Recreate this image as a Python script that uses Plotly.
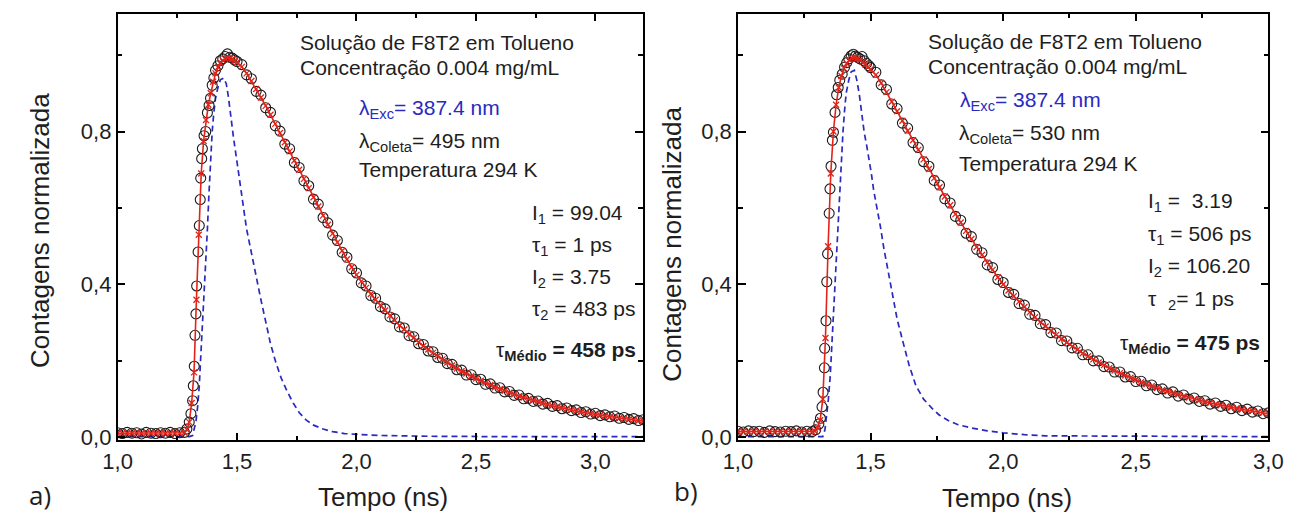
import plotly.graph_objects as go

# ---------------- data ----------------
# Panel a) -- collected at 495 nm
A_DATA_T = [1.00, 1.02, 1.04, 1.06, 1.08, 1.10, 1.12, 1.14, 1.16, 1.18, 1.20, 1.22, 1.24, 1.26,
            1.28, 1.29, 1.30, 1.307, 1.314, 1.317, 1.321, 1.324, 1.328, 1.331, 1.337, 1.342, 1.346,
            1.348, 1.352, 1.355, 1.362, 1.369, 1.376, 1.383, 1.389, 1.396, 1.403, 1.41, 1.42, 1.43,
            1.44, 1.45, 1.46, 1.47, 1.48, 1.49, 1.50]
A_DATA_V = [0.012, 0.010, 0.013, 0.011, 0.012, 0.009, 0.013, 0.011, 0.010, 0.012, 0.011, 0.013, 0.010, 0.012,
            0.013, 0.022, 0.040, 0.062, 0.096, 0.135, 0.186, 0.267, 0.323, 0.396, 0.485, 0.554, 0.622,
            0.678, 0.729, 0.755, 0.789, 0.800, 0.849, 0.868, 0.887, 0.921, 0.940, 0.960, 0.972, 0.985,
            0.990, 0.996, 1.003, 0.994, 0.992, 0.987, 0.983]
A_FIT_T = [1.00, 1.02, 1.04, 1.06, 1.08, 1.10, 1.12, 1.14, 1.16, 1.18, 1.20, 1.22, 1.24, 1.26,
           1.28, 1.29, 1.30, 1.31, 1.32, 1.33, 1.34, 1.35, 1.36, 1.37, 1.38, 1.39, 1.40, 1.41,
           1.42, 1.43, 1.44, 1.45, 1.46, 1.47, 1.48, 1.49, 1.50]
A_FIT_V = [0.011, 0.011, 0.011, 0.011, 0.011, 0.011, 0.011, 0.011, 0.011, 0.011, 0.011, 0.011, 0.011, 0.011,
           0.012, 0.020, 0.040, 0.090, 0.170, 0.360, 0.530, 0.690, 0.775, 0.830, 0.870, 0.900, 0.930, 0.952,
           0.968, 0.979, 0.986, 0.990, 0.992, 0.991, 0.989, 0.985, 0.981]
A_DECAY_T = [1.52, 1.54, 1.56, 1.58, 1.60, 1.62, 1.64, 1.66, 1.68, 1.70, 1.72, 1.74, 1.76, 1.78,
             1.80, 1.82, 1.84, 1.86, 1.88, 1.90, 1.92, 1.94, 1.96, 1.98,
             2.00, 2.02, 2.04, 2.06, 2.08, 2.10, 2.12, 2.14, 2.16, 2.18, 2.20, 2.22, 2.24, 2.26,
             2.28, 2.30, 2.32, 2.34, 2.36, 2.38, 2.40, 2.42, 2.44, 2.46, 2.48, 2.50, 2.52, 2.54,
             2.56, 2.58, 2.60, 2.62, 2.64, 2.66, 2.68, 2.70, 2.72, 2.74, 2.76, 2.78, 2.80, 2.82,
             2.84, 2.86, 2.88, 2.90, 2.92, 2.94, 2.96, 2.98, 3.00, 3.02, 3.04, 3.06, 3.08, 3.10,
             3.12, 3.14, 3.16, 3.18, 3.20]
A_DECAY_DATA = [0.975, 0.948, 0.938, 0.905, 0.895, 0.862, 0.850, 0.815, 0.801, 0.767, 0.755, 0.719,
                0.706, 0.671, 0.658, 0.623, 0.610, 0.575, 0.561, 0.529, 0.515, 0.484, 0.471, 0.441,
                0.430, 0.404, 0.396, 0.371, 0.364, 0.342, 0.336, 0.315, 0.310, 0.289,
                0.286, 0.266, 0.263, 0.245, 0.243, 0.226, 0.224, 0.209, 0.207, 0.193,
                0.191, 0.177, 0.176, 0.163, 0.164, 0.151, 0.152, 0.139, 0.140, 0.129,
                0.130, 0.119, 0.120, 0.110, 0.111, 0.101, 0.102, 0.094, 0.095, 0.087,
                0.089, 0.081, 0.083, 0.075, 0.077, 0.070, 0.072, 0.065, 0.067, 0.061,
                0.063, 0.057, 0.059, 0.054, 0.056, 0.050, 0.052, 0.047, 0.049, 0.044, 0.046]
A_DECAY_FIT = [0.969, 0.952, 0.932, 0.911, 0.889, 0.867, 0.844, 0.820, 0.796, 0.772, 0.748, 0.724,
               0.700, 0.676, 0.652, 0.628, 0.604, 0.580, 0.556, 0.533, 0.510, 0.488, 0.466, 0.445,
               0.425, 0.408, 0.391, 0.375, 0.360, 0.346, 0.332, 0.319, 0.306, 0.293,
               0.282, 0.270, 0.260, 0.249, 0.239, 0.230, 0.221, 0.212, 0.204, 0.196,
               0.188, 0.180, 0.173, 0.167, 0.160, 0.154, 0.148, 0.142, 0.137, 0.131,
               0.126, 0.122, 0.117, 0.113, 0.108, 0.104, 0.100, 0.097, 0.093, 0.090,
               0.086, 0.083, 0.080, 0.077, 0.074, 0.072, 0.069, 0.067, 0.064, 0.062,
               0.060, 0.058, 0.056, 0.054, 0.052, 0.050, 0.049, 0.047, 0.046, 0.044, 0.043]
A_IRF_T = [1.00, 1.30, 1.314, 1.321, 1.328, 1.335, 1.342, 1.348, 1.355, 1.362, 1.369, 1.376, 1.382,
           1.389, 1.396, 1.403, 1.41, 1.42, 1.43, 1.444, 1.455, 1.464, 1.475, 1.485, 1.50, 1.512,
           1.525, 1.54, 1.56, 1.581, 1.60, 1.622, 1.64, 1.663, 1.685, 1.71, 1.735, 1.76, 1.79,
           1.82, 1.86, 1.90, 1.95, 2.00, 2.10, 2.30, 2.60, 3.20]
A_IRF_V = [0.002, 0.002, 0.005, 0.020, 0.041, 0.080, 0.135, 0.210, 0.289, 0.375, 0.460, 0.545, 0.631,
           0.720, 0.800, 0.850, 0.887, 0.915, 0.935, 0.940, 0.925, 0.890, 0.830, 0.785, 0.720, 0.673,
           0.610, 0.545, 0.480, 0.417, 0.360, 0.297, 0.245, 0.195, 0.155, 0.120, 0.090, 0.065, 0.045,
           0.032, 0.022, 0.015, 0.010, 0.008, 0.005, 0.003, 0.002, 0.002]

# Panel b) -- collected at 530 nm
B_DATA_T = [1.00, 1.02, 1.04, 1.06, 1.08, 1.10, 1.12, 1.14, 1.16, 1.18, 1.20, 1.22, 1.24, 1.26, 1.28,
            1.293, 1.305, 1.311, 1.317, 1.321, 1.326, 1.327, 1.332, 1.335, 1.338, 1.344, 1.347, 1.351,
            1.356, 1.360, 1.366, 1.372, 1.378, 1.384, 1.393, 1.402, 1.410, 1.418, 1.427, 1.435, 1.443,
            1.451, 1.460, 1.468, 1.476, 1.485, 1.494, 1.500]
B_DATA_V = [0.016, 0.014, 0.017, 0.015, 0.016, 0.013, 0.017, 0.015, 0.014, 0.016, 0.015, 0.017, 0.014, 0.016, 0.015,
            0.020, 0.035, 0.050, 0.080, 0.118, 0.182, 0.233, 0.305, 0.407, 0.480, 0.586, 0.650, 0.709,
            0.777, 0.798, 0.850, 0.896, 0.915, 0.934, 0.950, 0.968, 0.980, 0.990, 0.998, 1.002, 0.997,
            0.994, 0.990, 0.996, 0.985, 0.978, 0.972, 0.967]
B_FIT_T = [1.00, 1.02, 1.04, 1.06, 1.08, 1.10, 1.12, 1.14, 1.16, 1.18, 1.20, 1.22, 1.24, 1.26, 1.28,
           1.29, 1.30, 1.31, 1.32, 1.33, 1.34, 1.35, 1.36, 1.37, 1.38, 1.39, 1.40, 1.41, 1.42, 1.43,
           1.44, 1.45, 1.46, 1.47, 1.48, 1.49, 1.50]
B_FIT_V = [0.015, 0.015, 0.015, 0.015, 0.015, 0.015, 0.015, 0.015, 0.015, 0.015, 0.015, 0.015, 0.015, 0.015, 0.015,
           0.016, 0.025, 0.045, 0.100, 0.260, 0.500, 0.690, 0.800, 0.870, 0.915, 0.945, 0.965, 0.978, 0.987, 0.992,
           0.993, 0.991, 0.987, 0.982, 0.976, 0.969, 0.962]
B_DECAY_T = [1.52, 1.54, 1.56, 1.58, 1.60, 1.62, 1.64, 1.66, 1.68, 1.70, 1.72, 1.74, 1.76, 1.78,
             1.80, 1.82, 1.84, 1.86, 1.88, 1.90, 1.92, 1.94, 1.96, 1.98,
             2.00, 2.02, 2.04, 2.06, 2.08, 2.10, 2.12, 2.14, 2.16, 2.18, 2.20, 2.22, 2.24, 2.26,
             2.28, 2.30, 2.32, 2.34, 2.36, 2.38, 2.40, 2.42, 2.44, 2.46, 2.48, 2.50, 2.52, 2.54,
             2.56, 2.58, 2.60, 2.62, 2.64, 2.66, 2.68, 2.70, 2.72, 2.74, 2.76, 2.78, 2.80, 2.82,
             2.84, 2.86, 2.88, 2.90, 2.92, 2.94, 2.96, 2.98, 3.00]
B_DECAY_DATA = [0.955, 0.922, 0.910, 0.872, 0.860, 0.822, 0.809, 0.771, 0.758, 0.721, 0.709, 0.672,
                0.660, 0.624, 0.613, 0.578, 0.568, 0.534, 0.525, 0.492, 0.483, 0.451, 0.444, 0.413,
                0.405, 0.379, 0.374, 0.350, 0.346, 0.322, 0.319, 0.297, 0.295, 0.274,
                0.273, 0.253, 0.252, 0.234, 0.233, 0.216, 0.216, 0.200, 0.200, 0.185,
                0.184, 0.171, 0.171, 0.158, 0.159, 0.146, 0.147, 0.135, 0.137, 0.125,
                0.127, 0.116, 0.119, 0.108, 0.111, 0.100, 0.103, 0.094, 0.096, 0.087,
                0.090, 0.081, 0.084, 0.075, 0.079, 0.070, 0.074, 0.066, 0.069, 0.062, 0.064]
B_DECAY_FIT = [0.948, 0.927, 0.903, 0.878, 0.853, 0.828, 0.802, 0.777, 0.752, 0.727, 0.702, 0.678,
               0.654, 0.630, 0.607, 0.584, 0.562, 0.540, 0.519, 0.498, 0.477, 0.457, 0.438, 0.419,
               0.400, 0.384, 0.369, 0.355, 0.341, 0.327, 0.314, 0.302, 0.290, 0.279,
               0.268, 0.258, 0.248, 0.238, 0.229, 0.220, 0.212, 0.204, 0.196, 0.189,
               0.181, 0.175, 0.168, 0.162, 0.156, 0.150, 0.144, 0.139, 0.134, 0.129,
               0.124, 0.120, 0.116, 0.112, 0.108, 0.104, 0.100, 0.097, 0.093, 0.090,
               0.087, 0.084, 0.081, 0.078, 0.076, 0.073, 0.071, 0.069, 0.066, 0.064, 0.062]
B_IRF_T = [1.00, 1.32, 1.328, 1.335, 1.341, 1.348, 1.354, 1.360, 1.366, 1.372, 1.378, 1.384, 1.390,
           1.396, 1.402, 1.408, 1.418, 1.427, 1.439, 1.448, 1.457, 1.466, 1.476, 1.485, 1.494, 1.503,
           1.512, 1.525, 1.537, 1.550, 1.567, 1.585, 1.600, 1.622, 1.645, 1.671, 1.700, 1.732, 1.760,
           1.793, 1.830, 1.878, 1.940, 2.000, 2.080, 2.160, 2.400, 3.000]
B_IRF_V = [0.002, 0.002, 0.020, 0.059, 0.100, 0.161, 0.240, 0.330, 0.415, 0.500, 0.590, 0.671, 0.740,
           0.798, 0.855, 0.900, 0.935, 0.956, 0.960, 0.935, 0.900, 0.850, 0.798, 0.765, 0.730, 0.690,
           0.645, 0.600, 0.552, 0.495, 0.433, 0.360, 0.310, 0.250, 0.190, 0.135, 0.100, 0.076, 0.058,
           0.044, 0.033, 0.025, 0.017, 0.012, 0.007, 0.004, 0.003, 0.002]

X_TICKS = [1.0, 1.5, 2.0, 2.5, 3.0]
Y_TICKS = [0.0, 0.4, 0.8]

# ---------------- styling ----------------
W, H = 1301, 525
FONT = "Liberation Sans, Arial, sans-serif"
BLACK = "#1a1a1a"
RED = "#e2231a"
BLUE = "#2a2ac0"
TXT = "#1e1e1e"


def px(x):
    return x / W


def py(y):
    return 1 - y / H


fig = go.Figure()


def add_panel(xa, ya, irf_t, irf_v, data_t, data_v, fit_t, fit_v):
    fig.add_trace(go.Scatter(x=irf_t, y=irf_v, mode="lines", xaxis=xa, yaxis=ya,
                             line=dict(color=BLUE, width=1.7, dash="6px,4px"),
                             showlegend=False, hoverinfo="skip"))
    fig.add_trace(go.Scatter(x=data_t, y=data_v, mode="markers", xaxis=xa, yaxis=ya,
                             marker=dict(symbol="circle-open", size=10, color=BLACK,
                                         line=dict(width=1.1, color=BLACK)),
                             showlegend=False, hoverinfo="skip"))
    fig.add_trace(go.Scatter(x=fit_t, y=fit_v, mode="lines+markers", xaxis=xa, yaxis=ya,
                             line=dict(color=RED, width=1.6),
                             marker=dict(symbol="x-thin", size=6, color=RED,
                                         line=dict(color=RED, width=1.3)),
                             showlegend=False, hoverinfo="skip"))


add_panel("x", "y", A_IRF_T, A_IRF_V, A_DATA_T + A_DECAY_T, A_DATA_V + A_DECAY_DATA,
          A_FIT_T + A_DECAY_T, A_FIT_V + A_DECAY_FIT)
add_panel("x2", "y2", B_IRF_T, B_IRF_V, B_DATA_T + B_DECAY_T, B_DATA_V + B_DECAY_DATA,
          B_FIT_T + B_DECAY_T, B_FIT_V + B_DECAY_FIT)


def xaxis_cfg(domain, rng, anchor):
    return dict(domain=domain, range=rng, anchor=anchor, showline=True, linecolor="black",
                linewidth=1.5, mirror="ticks", ticks="inside", ticklen=8, tickwidth=1.5,
                tickcolor="black", tickmode="array", tickvals=X_TICKS, tickformat=".1f",
                showgrid=False, zeroline=False,
                tickfont=dict(family=FONT, size=22, color=TXT),
                minor=dict(dtick=0.25, tick0=1.0, ticks="inside", ticklen=5, tickwidth=1.5,
                           tickcolor="black", showgrid=False))


def yaxis_cfg(domain, rng, anchor):
    return dict(domain=domain, range=rng, anchor=anchor, showline=True, linecolor="black",
                linewidth=1.5, mirror="ticks", ticks="inside", ticklen=8, tickwidth=1.5,
                tickcolor="black", tickmode="array", tickvals=Y_TICKS, tickformat=".1f",
                showgrid=False, zeroline=False,
                tickfont=dict(family=FONT, size=22, color=TXT),
                minor=dict(dtick=0.2, tick0=0.0, ticks="inside", ticklen=5, tickwidth=1.5,
                           tickcolor="black", showgrid=False))


YDOM = [1 - 449 / H, 1 - 14 / H]
fig.update_layout(
    width=W, height=H,
    margin=dict(l=0, r=0, t=0, b=0),
    paper_bgcolor="white", plot_bgcolor="white",
    separators=", ",
    font=dict(family=FONT, color=TXT),
    xaxis=xaxis_cfg([px(105), px(643)], [1.0, 3.2], "y"),
    yaxis=yaxis_cfg(YDOM, [-0.008, 1.108], "x"),
    xaxis2=xaxis_cfg([px(740), px(1283)], [1.0, 3.0], "y2"),
    yaxis2=yaxis_cfg(YDOM, [-0.008, 1.108], "x2"),
)

NB = "\u00a0"
texts = [
    # panel a
    ("Solução de F8T2 em Tolueno", 290, 43, TXT, "left"),
    ("Concentração 0.004 mg/mL", 290, 69, TXT, "left"),
    ("λ<sub>Exc</sub>= 387.4 nm", 350, 111, BLUE, "left"),
    ("λ<sub>Coleta</sub>= 495 nm", 350, 145, TXT, "left"),
    ("Temperatura 294 K", 350, 173, TXT, "left"),
    ("I<sub>1</sub> = 99.04", 527, 218, TXT, "left"),
    ("τ<sub>1</sub> = 1 ps", 527, 251, TXT, "left"),
    ("I<sub>2</sub> = 3.75", 527, 283, TXT, "left"),
    ("τ<sub>2</sub> = 483 ps", 527, 316, TXT, "left"),
    ("τ<sub><b>Médio</b></sub><b> = 458 ps</b>", 638, 358, TXT, "right"),
    # panel b
    ("Solução de F8T2 em Tolueno", 933, 42, TXT, "left"),
    ("Concentração 0.004 mg/mL", 933, 68, TXT, "left"),
    ("λ<sub>Exc</sub>= 387.4 nm", 965, 103, BLUE, "left"),
    ("λ<sub>Coleta</sub>= 530 nm", 964, 137, TXT, "left"),
    ("Temperatura 294 K", 964, 167, TXT, "left"),
    ("I<sub>1</sub> =" + NB + NB + "3.19", 1158, 206, TXT, "left"),
    ("τ<sub>1</sub> = 506 ps", 1158, 240, TXT, "left"),
    ("I<sub>2</sub> = 106.20", 1158, 272, TXT, "left"),
    ("τ" + NB + NB + "<sub>2</sub>= 1 ps", 1158, 306, TXT, "left"),
    ("τ<sub><b>Médio</b></sub><b> = 475 ps</b>", 1276, 351, TXT, "right"),
]
annotations = []
for t, x, y, c, xa in texts:
    annotations.append(dict(text=t, x=px(x), y=py(y), xref="paper", yref="paper",
                            xanchor=xa, yanchor="middle", showarrow=False,
                            font=dict(family=FONT, size=21, color=c)))

# axis titles and panel letters
for x, y in [(25, 235), (673, 249)]:
    annotations.append(dict(text="Contagens normalizada", x=px(x), y=py(y), xref="paper", yref="paper",
                            xanchor="center", yanchor="middle", textangle=-90, showarrow=False,
                            font=dict(family=FONT, size=26, color=TXT)))
for x, y in [(377, 507), (1015, 508)]:
    annotations.append(dict(text="Tempo (ns)", x=px(x), y=py(y), xref="paper", yref="paper",
                            xanchor="center", yanchor="middle", showarrow=False,
                            font=dict(family=FONT, size=26, color=TXT)))
for t, x, y in [("a)", 12, 505), ("b)", 672, 501)]:
    annotations.append(dict(text=t, x=px(x), y=py(y), xref="paper", yref="paper",
                            xanchor="left", yanchor="middle", showarrow=False,
                            font=dict(family="Open Sans, Noto Sans, sans-serif", size=26, color=TXT)))

fig.update_layout(annotations=annotations)
fig.write_html("out.html")
